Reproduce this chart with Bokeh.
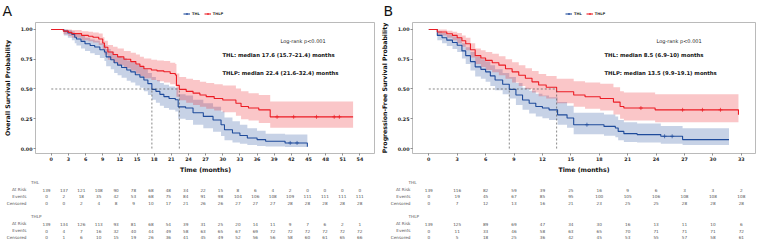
import bisect

from bokeh.core.properties import value
from bokeh.embed import file_html
from bokeh.layouts import column, row
from bokeh.models import (FixedTicker, Label, Legend, LegendItem,
                          NumeralTickFormatter, Range1d)
from bokeh.plotting import figure
from bokeh.resources import INLINE

FONT = "DejaVu Sans"
BLUE = "#1f4b9b"
RED = "#ec1c24"
TEXT = "#262626"
TABLE_TEXT = "#555555"
NAN = float("nan")

# ---------------- Overall survival (panel A) ----------------
os_ticks = list(range(0, 55, 3))

os_thl_t = [0, 2.2, 2.9, 3.6, 4.1, 4.4, 5.2, 5.9, 6.8, 7.6, 8.5, 9.3, 9.6, 10.4, 11.0,
            11.6, 12.3, 13.2, 13.9, 14.7, 15.5, 16.2, 16.9, 17.6, 18.3, 19.0, 19.7,
            20.6, 21.7, 22.2, 23.5, 24.8, 26.6, 28.3, 29.7, 30.3, 31.7, 33.0, 34.3,
            36.0, 37.5, 40.9, 44.8]
os_thl_s = [1.0, 0.986, 0.971, 0.957, 0.935, 0.92, 0.90, 0.88, 0.865, 0.853, 0.83, 0.81,
            0.77, 0.745, 0.72, 0.70, 0.68, 0.66, 0.644, 0.62, 0.60, 0.575, 0.545, 0.497,
            0.48, 0.455, 0.436, 0.42, 0.41, 0.35, 0.34, 0.30, 0.27, 0.24, 0.20, 0.158,
            0.13, 0.11, 0.089, 0.075, 0.061, 0.047, 0.014]
os_thl_lo = [1.0, 0.95, 0.93, 0.91, 0.885, 0.865, 0.84, 0.82, 0.80, 0.785, 0.76, 0.735,
             0.69, 0.665, 0.635, 0.615, 0.595, 0.57, 0.555, 0.53, 0.51, 0.48, 0.45, 0.41,
             0.385, 0.36, 0.34, 0.325, 0.31, 0.25, 0.24, 0.20, 0.17, 0.14, 0.105, 0.07,
             0.05, 0.04, 0.03, 0.022, 0.018, 0.012, 0.002]
os_thl_hi = [1.0, 1.0, 0.995, 0.985, 0.97, 0.96, 0.945, 0.93, 0.915, 0.905, 0.885, 0.87,
             0.835, 0.815, 0.79, 0.775, 0.76, 0.74, 0.725, 0.705, 0.685, 0.665, 0.635,
             0.60, 0.575, 0.55, 0.535, 0.52, 0.51, 0.455, 0.445, 0.41, 0.38, 0.35, 0.31,
             0.26, 0.23, 0.20, 0.17, 0.15, 0.125, 0.117, 0.09]
os_thl_cens = [41.8, 43.0]

os_thlp_t = [0, 2.1, 3.0, 3.6, 5.3, 6.5, 7.3, 8.3, 9.0, 9.3, 9.9, 10.8, 11.6, 12.7, 13.9,
             14.8, 15.5, 16.2, 17.5, 18.5, 19.7, 20.8, 21.7, 21.9, 22.4, 23.6, 24.8, 26.0,
             27.1, 28.5, 30.0, 32.3, 33.2, 34.5, 36.3, 38.3, 52.8]
os_thlp_s = [1.0, 0.986, 0.975, 0.965, 0.95, 0.943, 0.935, 0.92, 0.886, 0.85, 0.81, 0.79,
             0.77, 0.75, 0.73, 0.71, 0.69, 0.67, 0.66, 0.652, 0.645, 0.63, 0.617, 0.53,
             0.497, 0.48, 0.465, 0.45, 0.436, 0.42, 0.408, 0.38, 0.353, 0.34, 0.325, 0.266,
             0.266]
os_thlp_lo = [1.0, 0.96, 0.945, 0.93, 0.91, 0.90, 0.89, 0.87, 0.83, 0.79, 0.745, 0.72,
              0.70, 0.675, 0.655, 0.63, 0.61, 0.59, 0.575, 0.565, 0.555, 0.54, 0.525,
              0.435, 0.405, 0.385, 0.365, 0.35, 0.335, 0.32, 0.305, 0.275, 0.245, 0.235,
              0.215, 0.175, 0.175]
os_thlp_hi = [1.0, 1.0, 1.0, 0.995, 0.985, 0.98, 0.975, 0.965, 0.935, 0.905, 0.87, 0.855,
              0.84, 0.82, 0.805, 0.79, 0.77, 0.755, 0.745, 0.74, 0.735, 0.72, 0.71, 0.63,
              0.60, 0.585, 0.575, 0.56, 0.55, 0.54, 0.53, 0.505, 0.48, 0.465, 0.45, 0.395,
              0.395]
os_thlp_cens = [39.5, 42.4, 46.4, 49.5, 50.4]

os_medians = [17.6, 22.4]
os_stats = ["THL: median 17.6 (15.7\u201321.4) months",
            "THLP: median 22.4 (21.6\u201332.4) months"]

os_thl_risk = [139, 137, 121, 108, 90, 78, 68, 48, 34, 22, 15, 8, 6, 4, 2, 0, 0, 0, 0]
os_thl_events = [0, 2, 18, 35, 42, 53, 68, 75, 84, 91, 98, 104, 106, 108, 109, 111, 111, 111, 111]
os_thl_censored = [0, 0, 2, 4, 8, 9, 10, 17, 21, 26, 26, 27, 27, 27, 28, 28, 28, 28, 28]
os_thlp_risk = [139, 134, 126, 113, 93, 81, 68, 54, 39, 31, 25, 20, 14, 11, 9, 7, 6, 2, 1]
os_thlp_events = [0, 4, 7, 16, 32, 40, 44, 49, 58, 63, 65, 67, 69, 72, 72, 72, 72, 72, 72]
os_thlp_censored = [0, 1, 6, 10, 15, 19, 26, 36, 41, 45, 49, 52, 56, 56, 58, 60, 61, 65, 66]

# ---------------- Progression-free survival (panel B) ----------------
pfs_ticks = list(range(0, 34, 3))

pfs_thl_t = [0, 0.9, 1.4, 1.9, 2.5, 3.0, 3.5, 3.9, 4.4, 4.9, 5.5, 6.0, 6.5, 7.0, 7.8, 8.5,
             9.2, 9.9, 10.6, 11.3, 12.0, 12.7, 13.6, 14.6, 15.3, 18.5, 19.7, 20.0, 20.6,
             22.0, 24.5, 26.8, 31.7]
pfs_thl_s = [1.0, 0.95, 0.93, 0.91, 0.89, 0.867, 0.82, 0.78, 0.73, 0.686, 0.665, 0.644,
             0.61, 0.575, 0.54, 0.497, 0.45, 0.408, 0.38, 0.353, 0.34, 0.325, 0.283, 0.256,
             0.20, 0.186, 0.172, 0.144, 0.125, 0.117, 0.103, 0.075, 0.075]
pfs_thl_lo = [1.0, 0.91, 0.885, 0.86, 0.835, 0.81, 0.755, 0.71, 0.655, 0.605, 0.585, 0.56,
              0.525, 0.49, 0.455, 0.42, 0.365, 0.325, 0.295, 0.27, 0.255, 0.24, 0.20, 0.175,
              0.12, 0.108, 0.095, 0.07, 0.055, 0.05, 0.04, 0.03, 0.03]
pfs_thl_hi = [1.0, 0.985, 0.97, 0.955, 0.94, 0.925, 0.885, 0.85, 0.81, 0.77, 0.75, 0.73,
              0.70, 0.665, 0.635, 0.60, 0.55, 0.51, 0.485, 0.46, 0.445, 0.43, 0.39, 0.36,
              0.30, 0.285, 0.27, 0.24, 0.22, 0.21, 0.19, 0.17, 0.17]
pfs_thl_cens = [16.7, 24.9, 25.7]

pfs_thlp_t = [0, 0.9, 1.9, 2.5, 3.0, 3.5, 3.9, 4.4, 4.9, 5.5, 6.0, 6.7, 7.4, 8.1, 8.8, 9.5,
              10.2, 10.9, 11.6, 12.4, 13.5, 15.3, 16.5, 18.1, 19.5, 20.2, 20.6, 23.9, 32.7]
pfs_thlp_s = [1.0, 0.978, 0.964, 0.95, 0.93, 0.905, 0.88, 0.83, 0.78, 0.76, 0.74, 0.72,
              0.70, 0.67, 0.644, 0.615, 0.59, 0.56, 0.533, 0.515, 0.477, 0.45, 0.435, 0.42,
              0.39, 0.353, 0.34, 0.325, 0.283]
pfs_thlp_lo = [1.0, 0.95, 0.93, 0.91, 0.885, 0.855, 0.825, 0.765, 0.71, 0.685, 0.66, 0.64,
               0.615, 0.585, 0.555, 0.525, 0.50, 0.47, 0.44, 0.42, 0.38, 0.35, 0.335, 0.32,
               0.285, 0.25, 0.235, 0.22, 0.16]
pfs_thlp_hi = [1.0, 1.0, 0.99, 0.98, 0.97, 0.95, 0.93, 0.885, 0.84, 0.825, 0.81, 0.795,
               0.775, 0.75, 0.725, 0.70, 0.675, 0.65, 0.625, 0.61, 0.585, 0.565, 0.555,
               0.545, 0.515, 0.48, 0.47, 0.455, 0.41]
pfs_thlp_cens = [22.4, 26.8, 28.9, 30.8]

pfs_medians = [8.5, 13.5]
pfs_stats = ["THL: median 8.5 (6.9\u201310) months",
             "THLP: median 13.5 (9.9\u201319.1) months"]

pfs_thl_risk = [139, 116, 82, 59, 39, 25, 16, 9, 6, 3, 3, 2]
pfs_thl_events = [0, 19, 45, 67, 85, 95, 100, 105, 106, 108, 108, 108]
pfs_thl_censored = [0, 7, 12, 13, 16, 21, 23, 25, 25, 28, 28, 28]
pfs_thlp_risk = [139, 125, 89, 69, 47, 34, 30, 16, 13, 11, 10, 6]
pfs_thlp_events = [0, 11, 33, 46, 58, 63, 65, 70, 71, 71, 71, 72]
pfs_thlp_censored = [0, 5, 18, 25, 36, 42, 45, 53, 55, 57, 58, 61]

groups = ["THL", "THLP"]
row_names = ["At Risk", "Events", "Censored"]

# ---------------- layout constants (pixels) ----------------
HEAD_H = 21
PLOT_H = 154
TABLE_H = 65
TOP = 1
BOTTOM = 21
Y0, Y1 = -0.0417, 1.0583
BAND_ALPHA = 0.25
# vertical centres of the risk-table lines, measured from the table top
TABLE_ROWS = [6.7, 14.0, 20.7, 27.7, 40.7, 48.3, 55.0, 61.7]


def surv_at(ts, ss, t):
    i = bisect.bisect_right(ts, t) - 1
    return ss[max(i, 0)]


def style_axes(p, ylabel):
    for ax in (p.xaxis[0], p.yaxis[0]):
        ax.major_label_text_font = FONT
        ax.major_label_text_font_style = "bold"
        ax.major_label_text_font_size = "4.8px"
        ax.major_label_text_color = TEXT
        ax.axis_label_text_font = FONT
        ax.axis_label_text_font_style = "bold"
        ax.axis_label_text_font_size = "6.2px"
        ax.axis_label_text_color = "#111111"
        ax.major_tick_out = 2
        ax.major_tick_in = 0
        ax.minor_tick_out = 0
        ax.minor_tick_in = 0
        ax.major_tick_line_color = "#444444"
        ax.major_tick_line_width = 0.6
        ax.axis_line_color = None
        ax.major_label_standoff = 1
    p.xaxis.axis_label = "Time (months)"
    p.xaxis.axis_label_standoff = 2
    p.yaxis.axis_label = ylabel
    p.yaxis.axis_label_standoff = 7
    p.yaxis.formatter = NumeralTickFormatter(format="0.00")
    p.yaxis.ticker = FixedTicker(ticks=[0, 0.25, 0.5, 0.75, 1.0])


def bare_figure(W, H, xr, yr):
    f = figure(width=W, height=H, x_range=xr, y_range=yr, title=None,
               output_backend="svg", toolbar_location=None, min_border=0,
               x_axis_location=None, y_axis_location=None)
    f.grid.visible = False
    f.outline_line_color = None
    f.frame_align = False
    return f


def km_panel(cfg):
    W, bl, br = cfg["width"], cfg["border_left"], cfg["border_right"]
    x0, x1 = cfg["xrange"]
    scale = (W - bl - br) / (x1 - x0)
    tx0 = x0 - bl / scale
    tx1 = x1 + br / scale

    # header strip: panel letter and legend
    hd = bare_figure(W, HEAD_H, Range1d(tx0, tx1), Range1d(HEAD_H, 0))
    hd.add_layout(Label(x=cfg["letter_x"], y=HEAD_H - 10, x_units="screen",
                        y_units="screen", text=cfg["letter"], text_font=FONT,
                        text_font_size="14px", text_color="#111111",
                        text_baseline="middle"))
    items = []
    for name, color in zip(groups, (BLUE, RED)):
        # legend keys only: a single undefined point leaves nothing on the canvas
        ln = hd.line(x=[NAN], y=[NAN], line_color=color, line_width=1.1)
        mk = hd.scatter(x=[NAN], y=[NAN], marker="cross", size=4, line_color=color,
                        line_width=0.7)
        items.append(LegendItem(label=value(name), renderers=[ln, mk]))
    legend = Legend(items=items, location=cfg["legend_loc"], orientation="horizontal",
                    border_line_color=None, background_fill_alpha=0, padding=0, margin=0,
                    spacing=4, label_standoff=2, glyph_width=7, glyph_height=5,
                    label_height=5, label_width=1, label_text_font=FONT,
                    label_text_font_style="bold", label_text_font_size="3.6px",
                    label_text_color=TEXT)
    hd.add_layout(legend)

    # survival plot
    p = figure(width=W, height=PLOT_H, x_range=Range1d(x0, x1), y_range=Range1d(Y0, Y1),
               title=None, output_backend="svg", toolbar_location=None,
               min_border_left=bl, min_border_right=br,
               min_border_top=TOP, min_border_bottom=BOTTOM)
    p.frame_align = False
    p.grid.visible = False
    p.outline_line_color = "#a8a8a8"
    p.outline_line_width = 0.8
    style_axes(p, cfg["ylabel"])
    p.xaxis.ticker = FixedTicker(ticks=cfg["ticks"])

    for color, (t, s, lo, hi, cens) in zip((BLUE, RED), cfg["curves"]):
        p.varea_step(x=t, y1=lo, y2=hi, step_mode="after",
                     fill_color=color, fill_alpha=BAND_ALPHA)
    for color, (t, s, lo, hi, cens) in zip((BLUE, RED), cfg["curves"]):
        p.step(x=t, y=s, mode="after", line_color=color, line_width=1.1)
        cy = [surv_at(t, s, c) for c in cens]
        p.scatter(x=cens, y=cy, marker="cross", size=4, line_color=color,
                  line_width=0.7)

    # median reference lines
    meds = cfg["medians"]
    p.line(x=[0, max(meds)], y=[0.5, 0.5], line_color="#555555",
           line_width=0.7, line_dash="2 2")
    p.segment(x0=meds, y0=[0] * len(meds), x1=meds, y1=[0.5] * len(meds),
              line_color="#555555", line_width=0.7, line_dash="2 2")

    fh = PLOT_H - TOP - BOTTOM
    top = fh + TOP + HEAD_H  # screen y (from frame bottom) of the panel's top edge
    p.add_layout(Label(x=cfg["logrank_x"] - bl, y=top - 41, x_units="screen",
                       y_units="screen", text="Log-rank p<0.001", text_font=FONT,
                       text_font_size="5px", text_color=TEXT, text_baseline="middle"))
    for txt, yy in zip(cfg["stats"], (55, 73)):
        p.add_layout(Label(x=cfg["stats_x"] - bl, y=top - yy, x_units="screen",
                           y_units="screen", text=txt, text_font=FONT,
                           text_font_size="5.3px", text_font_style="bold",
                           text_color="#111111", text_baseline="middle"))

    # risk table below, sharing the month scale of the plot
    tb = bare_figure(W, TABLE_H, Range1d(tx0, tx1), Range1d(TABLE_H, 0))
    head_x = tx0 + cfg["table_head_px"] / scale
    lab_x = tx0 + cfg["table_label_px"] / scale
    nx, ny, ntxt = [], [], []
    hx, hy, htxt = [], [], []
    lx, ly, ltxt = [], [], []
    for g, (name, rows) in enumerate(zip(groups, cfg["table"])):
        base = 4 * g
        hx.append(head_x)
        hy.append(TABLE_ROWS[base])
        htxt.append(name)
        for r, (rname, vals) in enumerate(zip(row_names, rows)):
            yy = TABLE_ROWS[base + 1 + r]
            lx.append(lab_x)
            ly.append(yy)
            ltxt.append(rname)
            for tick, v in zip(cfg["ticks"], vals):
                nx.append(tick)
                ny.append(yy)
                ntxt.append(str(v))
    common = dict(text_font=value(FONT), text_font_size=value("4.2px"),
                  text_color=TABLE_TEXT, text_baseline="middle")
    tb.text(x=nx, y=ny, text=ntxt, text_align="center", **common)
    tb.text(x=hx, y=hy, text=htxt, text_align="left", **common)
    tb.text(x=lx, y=ly, text=ltxt, text_align="right", **common)
    return column(hd, p, tb, spacing=0)


panel_a = km_panel(dict(
    width=375, border_left=30, border_right=0, xrange=(-2.76, 56.72),
    ylabel="Overall Survival Probability", ticks=os_ticks,
    curves=[(os_thl_t, os_thl_s, os_thl_lo, os_thl_hi, os_thl_cens),
            (os_thlp_t, os_thlp_s, os_thlp_lo, os_thlp_hi, os_thlp_cens)],
    medians=os_medians, stats=os_stats, letter="A", letter_x=2,
    logrank_x=275, stats_x=217, legend_loc=(183, 5),
    table=[(os_thl_risk, os_thl_events, os_thl_censored),
           (os_thlp_risk, os_thlp_events, os_thlp_censored)],
    table_head_px=30.5, table_label_px=26))

panel_b = km_panel(dict(
    width=384, border_left=37, border_right=4, xrange=(-1.72, 34.5),
    ylabel="Progression-Free Survival Probability", ticks=pfs_ticks,
    curves=[(pfs_thl_t, pfs_thl_s, pfs_thl_lo, pfs_thl_hi, pfs_thl_cens),
            (pfs_thlp_t, pfs_thlp_s, pfs_thlp_lo, pfs_thlp_hi, pfs_thlp_cens)],
    medians=pfs_medians, stats=pfs_stats, letter="B", letter_x=8,
    logrank_x=281, stats_x=229, legend_loc=(190, 5),
    table=[(pfs_thl_risk, pfs_thl_events, pfs_thl_censored),
           (pfs_thlp_risk, pfs_thlp_events, pfs_thlp_censored)],
    table_head_px=33, table_label_px=35))

layout = row(panel_a, panel_b, spacing=0)
open("out.html", "w").write(file_html(layout, INLINE))
